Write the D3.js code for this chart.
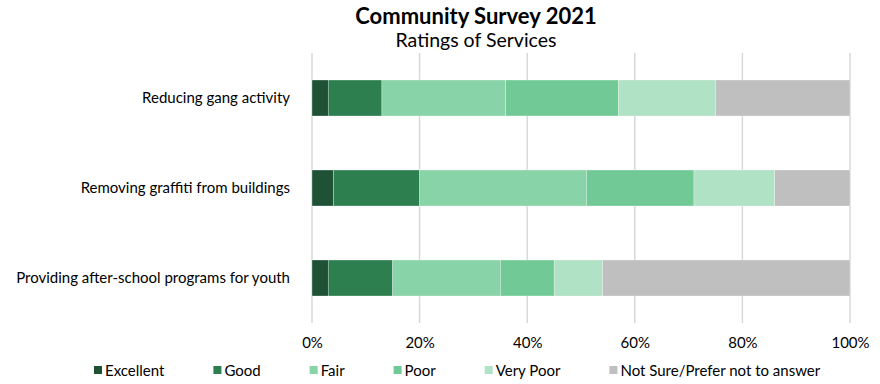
<!DOCTYPE html>
<html>
<head>
<meta charset="utf-8">
<script src="https://cdn.jsdelivr.net/npm/d3@7"></script>
<style>
    body { margin: 0; background: #fff; }
    text { font-family: 'Lato', 'Open Sans', sans-serif; fill: #000; }
</style>
</head>
<body>
<div id="chart"></div>
<script>
// Data
const services = [
    'Reducing gang activity',
    'Removing graffiti from buildings',
    'Providing after-school programs for youth'
]
const ratings = ['Excellent', 'Good', 'Fair', 'Poor', 'Very Poor', 'Not Sure/Prefer not to answer']
const excellent = [3, 4, 3]
const good = [10, 16, 12]
const fair = [23, 31, 20]
const poor = [21, 20, 10]
const veryPoor = [18, 15, 9]
const notSure = [25, 14, 46]
const xTicks = [0, 0.2, 0.4, 0.6, 0.8, 1]
const colors = ['#1f5235', '#2e7f50', '#88d3a7', '#71ca95', '#b0e2c5', '#bfbfbf']

const table = services.map((s, i) => ({
    service: s,
    'Excellent': excellent[i],
    'Good': good[i],
    'Fair': fair[i],
    'Poor': poor[i],
    'Very Poor': veryPoor[i],
    'Not Sure/Prefer not to answer': notSure[i]
}))

// Dimensions
const dimensions = {
    width: 880,
    height: 384,
    left: 312,
    right: 30,
    top: 53,
    bottom: 61
}
const ctrW = dimensions.width - dimensions.left - dimensions.right
const ctrH = dimensions.height - dimensions.top - dimensions.bottom

const svg = d3.select('#chart')
    .append('svg')
    .attr('width', dimensions.width)
    .attr('height', dimensions.height)

// Title
svg.append('text')
    .attr('x', 476)
    .attr('y', 24)
    .attr('text-anchor', 'middle')
    .style('font-size', '22px')
    .style('font-weight', 'bold')
    .text('Community Survey 2021')

svg.append('text')
    .attr('x', 476)
    .attr('y', 47)
    .attr('text-anchor', 'middle')
    .style('font-size', '19.5px')
    .text('Ratings of Services')

const ctr = svg.append('g')
    .attr('transform', `translate(${dimensions.left}, ${dimensions.top})`)

// Scales
const xScale = d3.scaleLinear()
    .domain([0, 1])
    .range([0, ctrW])

const yScale = d3.scaleBand()
    .domain(services)
    .range([0, ctrH])
    .paddingInner(0.6)
    .paddingOuter(0.3)

// Gridlines
ctr.append('g')
    .selectAll('line')
    .data(xTicks)
    .join('line')
    .attr('x1', d => xScale(d))
    .attr('x2', d => xScale(d))
    .attr('y1', 0)
    .attr('y2', ctrH)
    .attr('stroke', '#d9d9d9')
    .attr('stroke-width', 1.5)

// Stacked bars
const stack = d3.stack().keys(ratings)
const series = stack(table)

ctr.append('g')
    .selectAll('g')
    .data(series)
    .join('g')
    .attr('fill', (d, i) => colors[i])
    .selectAll('rect')
    .data(d => d)
    .join('rect')
    .attr('x', d => xScale(d[0] / 100))
    .attr('y', d => yScale(d.data.service))
    .attr('width', d => xScale(d[1] / 100) - xScale(d[0] / 100))
    .attr('height', yScale.bandwidth())
    .attr('stroke', '#fff')
    .attr('stroke-width', 0.3)

// Axes
const xAxis = d3.axisBottom(xScale)
    .tickValues(xTicks)
    .tickFormat(d3.format('.0%'))
    .tickSize(0)
    .tickPadding(14)

ctr.append('g')
    .attr('transform', `translate(0, ${ctrH})`)
    .call(xAxis)
    .call(g => g.select('.domain').remove())
    .selectAll('text')
    .style('font-size', '15px')
    .attr('font-family', null)

const yAxis = d3.axisLeft(yScale)
    .tickSize(0)
    .tickPadding(22)

ctr.append('g')
    .call(yAxis)
    .call(g => g.select('.domain').remove())
    .selectAll('text')
    .style('font-size', '15px')
    .attr('font-family', null)

// Legend
const legend = svg.append('g')
    .attr('transform', 'translate(94, 370)')

let lx = 0
ratings.forEach((r, i) => {
    const item = legend.append('g').attr('transform', `translate(${lx}, 0)`)
    item.append('rect')
        .attr('x', 0)
        .attr('y', -4)
        .attr('width', 8)
        .attr('height', 8)
        .attr('fill', colors[i])
    const t = item.append('text')
        .attr('x', 11)
        .attr('y', 5.5)
        .style('font-size', '15px')
        .text(r)
    lx += 11 + t.node().getComputedTextLength() + 49
})
</script>
</body>
</html>
